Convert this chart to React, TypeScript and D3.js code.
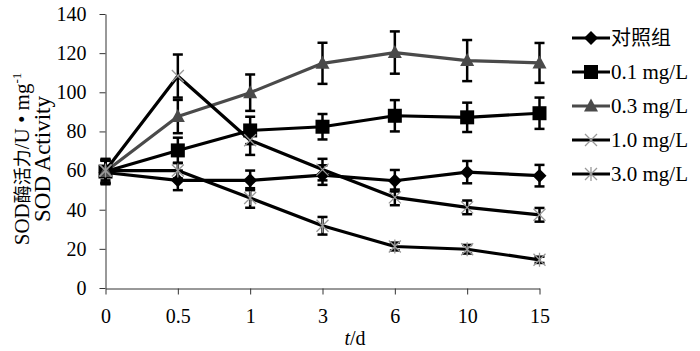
import { useRef, useEffect } from 'react';
import * as d3 from 'd3';

const days = ['0', '0.5', '1', '3', '6', '10', '15'];
const yTicks = [0, 20, 40, 60, 80, 100, 120, 140];

const seriesNames = ['对照组', '0.1 mg/L', '0.3 mg/L', '1.0 mg/L', '3.0 mg/L'];
const controlVals = [59, 55, 55, 57.7, 54.8, 59.2, 57.4];
const controlErr = [6, 5, 5, 5, 5.5, 5.7, 5.5];
const dose01Vals = [59.5, 70.3, 80.5, 82.4, 88, 87.2, 89.3];
const dose01Err = [6, 6.5, 7, 6.5, 8, 7.5, 8];
const dose03Vals = [59.5, 87.6, 99.8, 114.8, 120.3, 116.2, 115];
const dose03Err = [6, 8.5, 9.3, 10.5, 10.8, 10.5, 10.2];
const dose10Vals = [60, 108.3, 75.5, 60.5, 46.3, 41.2, 37.4];
const dose10Err = [6, 11, 7.5, 5.5, 4, 3.5, 3.5];
const dose30Vals = [60, 60, 46, 31.8, 21.2, 19.8, 14.4];
const dose30Err = [5, 4, 5, 4.5, 2, 2.2, 1.6];

const allVals = [controlVals, dose01Vals, dose03Vals, dose10Vals, dose30Vals];
const allErr = [controlErr, dose01Err, dose03Err, dose10Err, dose30Err];
const lineColors = ['#000', '#000', '#4a4a4a', '#000', '#000'];
const markerKinds = ['diamond', 'square', 'triangle', 'cross', 'star'];

const serif = '"Liberation Serif", "Times New Roman", "Noto Sans CJK SC", serif';

export default function App() {
    const svgRef = useRef<SVGSVGElement | null>(null);
    const w = 700;
    const h = 351;

    useEffect(() => {
        if (!svgRef.current) return;
        const svg = d3.select(svgRef.current);
        svg.selectAll('*').remove();

        const x = d3.scalePoint<string>().domain(days).range([105.5, 539.5]);
        const y = d3.scaleLinear().domain([0, 140]).range([288, 14]);

        const drawMarker = (g: d3.Selection<SVGGElement, unknown, null, undefined>, kind: string, cx: number, cy: number) => {
            if (kind === 'diamond') {
                g.append('path').attr('d', `M${cx},${cy - 7}L${cx + 7},${cy}L${cx},${cy + 7}L${cx - 7},${cy}Z`).attr('fill', '#000');
            } else if (kind === 'square') {
                g.append('rect').attr('x', cx - 7).attr('y', cy - 7).attr('width', 14).attr('height', 14).attr('fill', '#000');
            } else if (kind === 'triangle') {
                g.append('path').attr('d', `M${cx},${cy - 7.5}L${cx + 7},${cy + 5.5}L${cx - 7},${cy + 5.5}Z`).attr('fill', '#4a4a4a');
            } else if (kind === 'cross') {
                g.append('path').attr('d', `M${cx - 6},${cy - 6}L${cx + 6},${cy + 6}M${cx - 6},${cy + 6}L${cx + 6},${cy - 6}`)
                    .attr('stroke', '#999').attr('stroke-width', 1.3);
            } else {
                g.append('path').attr('d', `M${cx - 6},${cy - 6}L${cx + 6},${cy + 6}M${cx - 6},${cy + 6}L${cx + 6},${cy - 6}M${cx},${cy - 7}L${cx},${cy + 7}`)
                    .attr('stroke', '#999').attr('stroke-width', 1.3);
            }
        };

        // axes
        const yAxis = svg.append('g')
            .attr('transform', 'translate(105.5,0)')
            .call(d3.axisLeft(y).tickValues(yTicks).tickSizeInner(6).tickSizeOuter(0).tickPadding(13));
        const xAxis = svg.append('g')
            .attr('transform', 'translate(0,288.5)')
            .call(d3.axisBottom(x).tickSizeInner(6).tickSizeOuter(0).tickPadding(14));
        [yAxis, xAxis].forEach(a => {
            a.select('.domain').attr('stroke', '#333');
            a.selectAll('line').attr('stroke', '#333');
            a.selectAll('text').attr('font-family', serif).attr('font-size', 20).attr('fill', '#000');
        });

        // lines
        const line = d3.line<number>().x((_, i) => x(days[i])!).y(d => y(d));
        allVals.forEach((vals, s) => {
            svg.append('path')
                .datum(vals)
                .attr('d', line)
                .attr('fill', 'none')
                .attr('stroke', lineColors[s])
                .attr('stroke-width', 3.2)
                .attr('stroke-linejoin', 'round');
        });

        // error bars
        allVals.forEach((vals, s) => {
            const g = svg.append('g');
            vals.forEach((v, i) => {
                const cx = x(days[i])!;
                const e = allErr[s][i];
                const y0 = y(v - e), y1 = y(v + e);
                g.append('line').attr('x1', cx).attr('x2', cx).attr('y1', y0).attr('y2', y1).attr('stroke', '#000').attr('stroke-width', 2.5);
                [y0, y1].forEach(yy => g.append('line').attr('x1', cx - 5).attr('x2', cx + 5).attr('y1', yy).attr('y2', yy).attr('stroke', '#000').attr('stroke-width', 2.5));
            });
        });

        // markers
        allVals.forEach((vals, s) => {
            const g = svg.append('g');
            vals.forEach((v, i) => drawMarker(g, markerKinds[s], x(days[i])!, y(v)));
        });

        // legend
        seriesNames.forEach((name, s) => {
            const ly = 38 + s * 34;
            const g = svg.append('g');
            g.append('line').attr('x1', 572).attr('x2', 610).attr('y1', ly).attr('y2', ly)
                .attr('stroke', lineColors[s]).attr('stroke-width', 3);
            drawMarker(g, markerKinds[s], 591, ly);
            g.append('text').attr('x', 611).attr('y', ly + 7).attr('font-family', serif)
                .attr('font-size', s === 0 ? 20 : 21).text(name);
        });

        // axis titles
        const yl1 = svg.append('text')
            .attr('transform', 'translate(29,159) rotate(-90)')
            .attr('text-anchor', 'middle')
            .attr('font-family', serif).attr('font-size', 21);
        yl1.append('tspan').text('SOD');
        yl1.append('tspan').attr('font-size', 18).text('酶活力');
        yl1.append('tspan').text('/U • mg');
        yl1.append('tspan').attr('font-size', 13).attr('dy', -8).text('-1');
        svg.append('text')
            .attr('transform', 'translate(50,159) rotate(-90)')
            .attr('text-anchor', 'middle')
            .attr('font-family', serif).attr('font-size', 23)
            .text('SOD Activity');

        const xl = svg.append('text').attr('x', 355).attr('y', 345).attr('text-anchor', 'middle')
            .attr('font-family', serif).attr('font-size', 20);
        xl.append('tspan').attr('font-style', 'italic').text('t');
        xl.append('tspan').text('/d');
    }, []);

    return (
        <svg ref={svgRef} width={w} height={h} viewBox={`0 0 ${w} ${h}`}
             style={{ position: 'absolute', left: 0, top: 0, background: '#fff' }} />
    );
}
